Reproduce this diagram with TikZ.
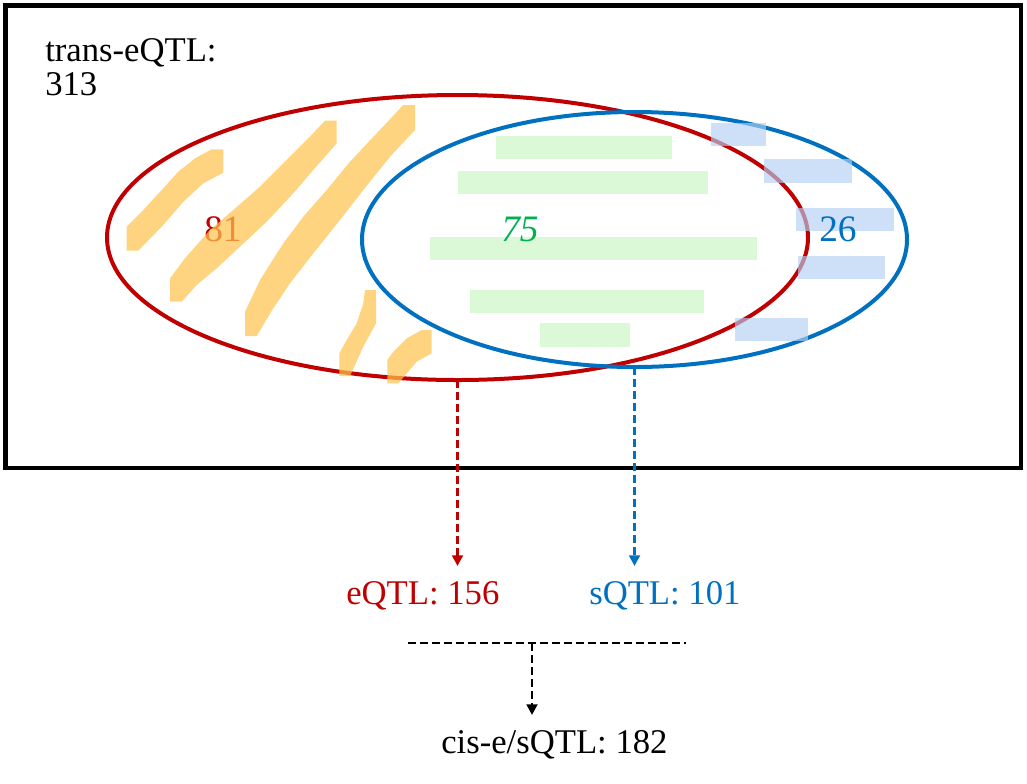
\documentclass[tikz,border=0pt]{standalone}
\usepackage{fontspec}
\setmainfont{Liberation Serif}
\usetikzlibrary{arrows.meta}
\definecolor{cred}{RGB}{192,0,0}
\definecolor{cblue}{RGB}{0,112,192}
\definecolor{cgreen}{RGB}{0,176,80}
\definecolor{cyellow}{RGB}{255,196,80}
\definecolor{clgreen}{RGB}{210,246,205}
\definecolor{clblue}{RGB}{178,208,244}
\tikzset{
  lbl/.style={font=\fontsize{26}{31}\selectfont, inner sep=0pt, anchor=base west},
  num/.style={font=\fontsize{28}{33}\selectfont, inner sep=0pt, anchor=base west},
  hl/.style={fill=cyellow, fill opacity=0.72, draw=none},
  gbar/.style={fill=clgreen, fill opacity=0.8, draw=none},
  bbar/.style={fill=clblue, fill opacity=0.65, draw=none},
  dline/.style={line width=2pt, dash pattern=on 6pt off 3pt},
  tip/.style={-{Triangle[length=8pt,width=8pt]}}
}
\begin{document}
\begin{tikzpicture}[x=0.75pt,y=-0.75pt]
\useasboundingbox (0,0) rectangle (1027,783);
% outer frame
\draw[line width=3.2pt] (5.5,5.5) rectangle (1021,468);
\node[lbl] (trans) at (45,61) {trans-eQTL:};
\node[lbl] (transn) at (45,95) {313};
% ellipses
\draw[cred, line width=3pt] (457.5,237.5) ellipse [x radius=350.5, y radius=142.5];
\draw[cblue, line width=3pt] (634.5,239.5) ellipse [x radius=272.5, y radius=127.5];
\coordinate (redbot) at (457.5,380);
\coordinate (bluebot) at (634.5,367);
% number 81 (under the yellow strokes)
\node[num, text=cred] (n81) at (204,241.5) {81};
% yellow strokes
\fill[hl] (126.7,226.7) -- (126.7,250.7) -- (138.3,250.7) -- (163.3,225) -- (183.3,201.7) -- (203.3,183.3) -- (223.3,172.7) -- (223.3,149.3) -- (211.7,149.3) -- (195,158.3) -- (178.3,171.7) -- (161.7,190) -- (143.3,210) -- cycle;
\fill[hl] (170,278.3) -- (170,301.7) -- (181.7,301.7) -- (196.7,285) -- (216.7,268.3) -- (240,246.7) -- (266.7,221.7) -- (293.3,193.3) -- (313.3,170) -- (336.7,143.3) -- (336.7,120.7) -- (325,120.7) -- (306.7,140) -- (283.3,163.3) -- (260,186.7) -- (233.3,210) -- (210,230) -- (185,258.3) -- cycle;
\fill[hl] (245,311.7) -- (245,336) -- (256.7,336) -- (273.3,308.3) -- (290,283.3) -- (313.3,253.3) -- (340,220) -- (363.3,190) -- (390,156.7) -- (415,130) -- (415,105) -- (403.3,105) -- (376.7,133.3) -- (350,161.7) -- (326.7,190) -- (303.3,216.7) -- (283.3,243.3) -- (260,280) -- cycle;
\fill[hl] (339.3,353.3) -- (339.3,376) -- (350,376) -- (363.3,346.7) -- (376,323.3) -- (376,290) -- (365,290) -- (363.3,303.3) -- (356.7,323.3) -- (346.7,340) -- cycle;
\fill[hl] (387.3,360) -- (387.3,383.3) -- (398.3,383.3) -- (416.7,361.7) -- (431.7,353.3) -- (431.7,330) -- (421.7,330) -- (406.7,338.3) -- (393.3,351.7) -- cycle;
% green bars
\fill[gbar] (496,135.7) rectangle (671.7,159);
\fill[gbar] (457.7,171) rectangle (708.3,194);
\fill[gbar] (430,236.7) rectangle (757.3,259.7);
\fill[gbar] (470,290) rectangle (704,312.7);
\fill[gbar] (540,323.3) rectangle (630,346.7);
% blue bars
\fill[bbar] (711,123.3) rectangle (766,146);
\fill[bbar] (764.3,159.3) rectangle (852,182.7);
\fill[bbar] (796,207.7) rectangle (894.3,230.7);
\fill[bbar] (797.7,256) rectangle (885,279.3);
\fill[bbar] (735,317.7) rectangle (808.3,341);
% numbers over the bars
\node[num, text=cgreen] (n75) at (501,241.5) {\itshape 75};
\node[num, text=cblue] (n26) at (819,241.5) {26};
% labels below
\node[lbl, text=cred] (eq) at (346,604) {eQTL: 156};
\node[lbl, text=cblue] (sq) at (589,604) {sQTL: 101};
\node[lbl] (cis) at (441,753) {cis-e/sQTL: 182};
\coordinate (eqtop) at (457.5,566);
\coordinate (sqtop) at (634.5,566);
\draw[dline, tip, cred] (redbot) -- (eqtop);
\draw[dline, tip, cblue] (bluebot) -- (sqtop);
\coordinate (hl) at (408,643);
\coordinate (hr) at (686,643);
\coordinate (hm) at (532,643);
\coordinate (cistop) at (532,715);
\draw[dline] (hl) -- (hr);
\draw[dline, tip] (hm) -- (cistop);
\end{tikzpicture}
\end{document}
